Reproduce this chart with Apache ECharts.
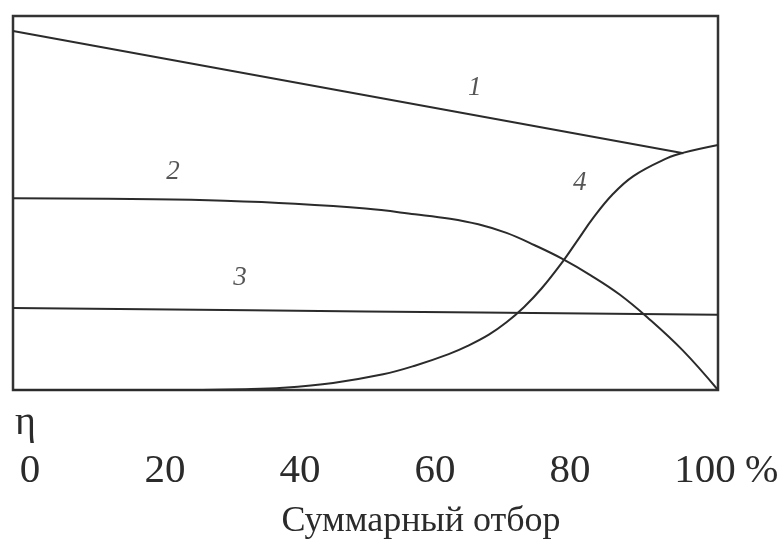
<!DOCTYPE html>
<html>
<head>
<meta charset="utf-8">
<script src="https://cdn.jsdelivr.net/npm/echarts@6/dist/echarts.min.js"></script>
<style>
html,body{margin:0;padding:0;background:#fff;}
#chart{width:781px;height:552px;}
</style>
</head>
<body>
<div id="chart"></div>
<script>
// Data (x: cumulative withdrawal, %; y: efficiency η, relative units 0-100)
var curve1 = [[0, 96.0], [95.1, 63.3]];
var curve2 = [[0, 51.3], [20, 51.0], [30, 50.6], [40, 49.8], [50, 48.5], [57, 47.0], [62, 45.8],
              [66, 44.3], [70, 42.0], [74, 38.7], [78, 35.0], [82, 30.6], [86, 25.6], [90, 19.4],
              [95, 10.6], [100, 0]];
var curve3 = [[0, 21.9], [50, 21.0], [100, 20.1]];
var curve4 = [[0, 0], [25, 0], [33, 0.2], [38.3, 0.6], [45.4, 1.9], [52.5, 4.2], [57, 6.5], [61.8, 9.6],
              [64.5, 11.8], [67.5, 14.8], [70, 18.1], [72.5, 22.2], [75, 27.2], [78.0, 34.4], [80, 39.8],
              [82.3, 46.0], [85, 52.2], [88.0, 57.2], [92.8, 62.0], [95.0, 63.4], [100, 65.5]];
var curveLabels = [['1', 65.5, 80.7], ['2', 22.7, 58.3], ['3', 32.2, 29.9], ['4', 80.4, 55.3]];
var xTicks = [0, 20, 40, 60, 80, 100];
var xTitle = 'Суммарный отбор';
var yTitle = 'η';
var unit = '%';

var FONT = "'Liberation Serif','Times New Roman',serif";
var INK = '#2b2b2b';

function lineSeries(data) {
  return {
    type: 'line', xAxisIndex: 0, yAxisIndex: 0, data: data,
    smooth: 0.4, showSymbol: false, symbol: 'none',
    lineStyle: {color: INK, width: 2}, silent: true, z: 3
  };
}

var chart = echarts.init(document.getElementById('chart'), null, {renderer: 'canvas'});
chart.setOption({
  animation: false,
  backgroundColor: '#fff',
  title: {
    text: xTitle, left: 416, top: 499, textAlign: 'center',
    textStyle: {fontFamily: FONT, fontSize: 36, fontWeight: 'normal', color: INK}
  },
  grid: [
    {left: 13, top: 16, right: 63, bottom: 162, show: true, borderColor: '#333', borderWidth: 2.5, backgroundColor: 'transparent'},
    {left: 30, top: 470, right: 76, bottom: 81, show: false}
  ],
  xAxis: [
    {gridIndex: 0, type: 'value', min: 0, max: 100, axisLine: {show: false}, axisTick: {show: false},
     axisLabel: {show: false}, splitLine: {show: false}},
    {gridIndex: 1, type: 'value', min: 0, max: 100, interval: 20, position: 'bottom',
     axisLine: {show: false}, axisTick: {show: false}, splitLine: {show: false},
     axisLabel: {show: true, margin: 0, verticalAlign: 'middle', fontFamily: FONT, fontSize: 41, color: INK,
                 formatter: function (v) { return xTicks.indexOf(v) >= 0 ? String(v) : ''; }},
     name: unit, nameLocation: 'end', nameGap: 40,
     nameTextStyle: {fontFamily: FONT, fontSize: 40, color: INK, verticalAlign: 'middle', align: 'left'}}
  ],
  yAxis: [
    {gridIndex: 0, type: 'value', min: 0, max: 100, axisLine: {show: false}, axisTick: {show: false},
     axisLabel: {show: false}, splitLine: {show: false},
     name: yTitle, nameLocation: 'start', nameGap: 13,
     nameTextStyle: {fontFamily: FONT, fontSize: 40, color: INK, align: 'left', verticalAlign: 'top', padding: [0, 0, 0, 2]}},
    {gridIndex: 1, type: 'value', min: 0, max: 1, show: false}
  ],
  series: [
    lineSeries(curve1),
    lineSeries(curve2),
    lineSeries(curve3),
    lineSeries(curve4),
    {
      type: 'scatter', xAxisIndex: 0, yAxisIndex: 0, symbolSize: 0, silent: true, z: 4,
      data: curveLabels.map(function (d) { return {value: [d[1], d[2]], name: d[0]}; }),
      label: {show: true, position: 'inside', formatter: function (p) { return p.name; },
              fontFamily: FONT, fontStyle: 'italic', fontSize: 27, color: INK}
    }
  ]
});
</script>
</body>
</html>
